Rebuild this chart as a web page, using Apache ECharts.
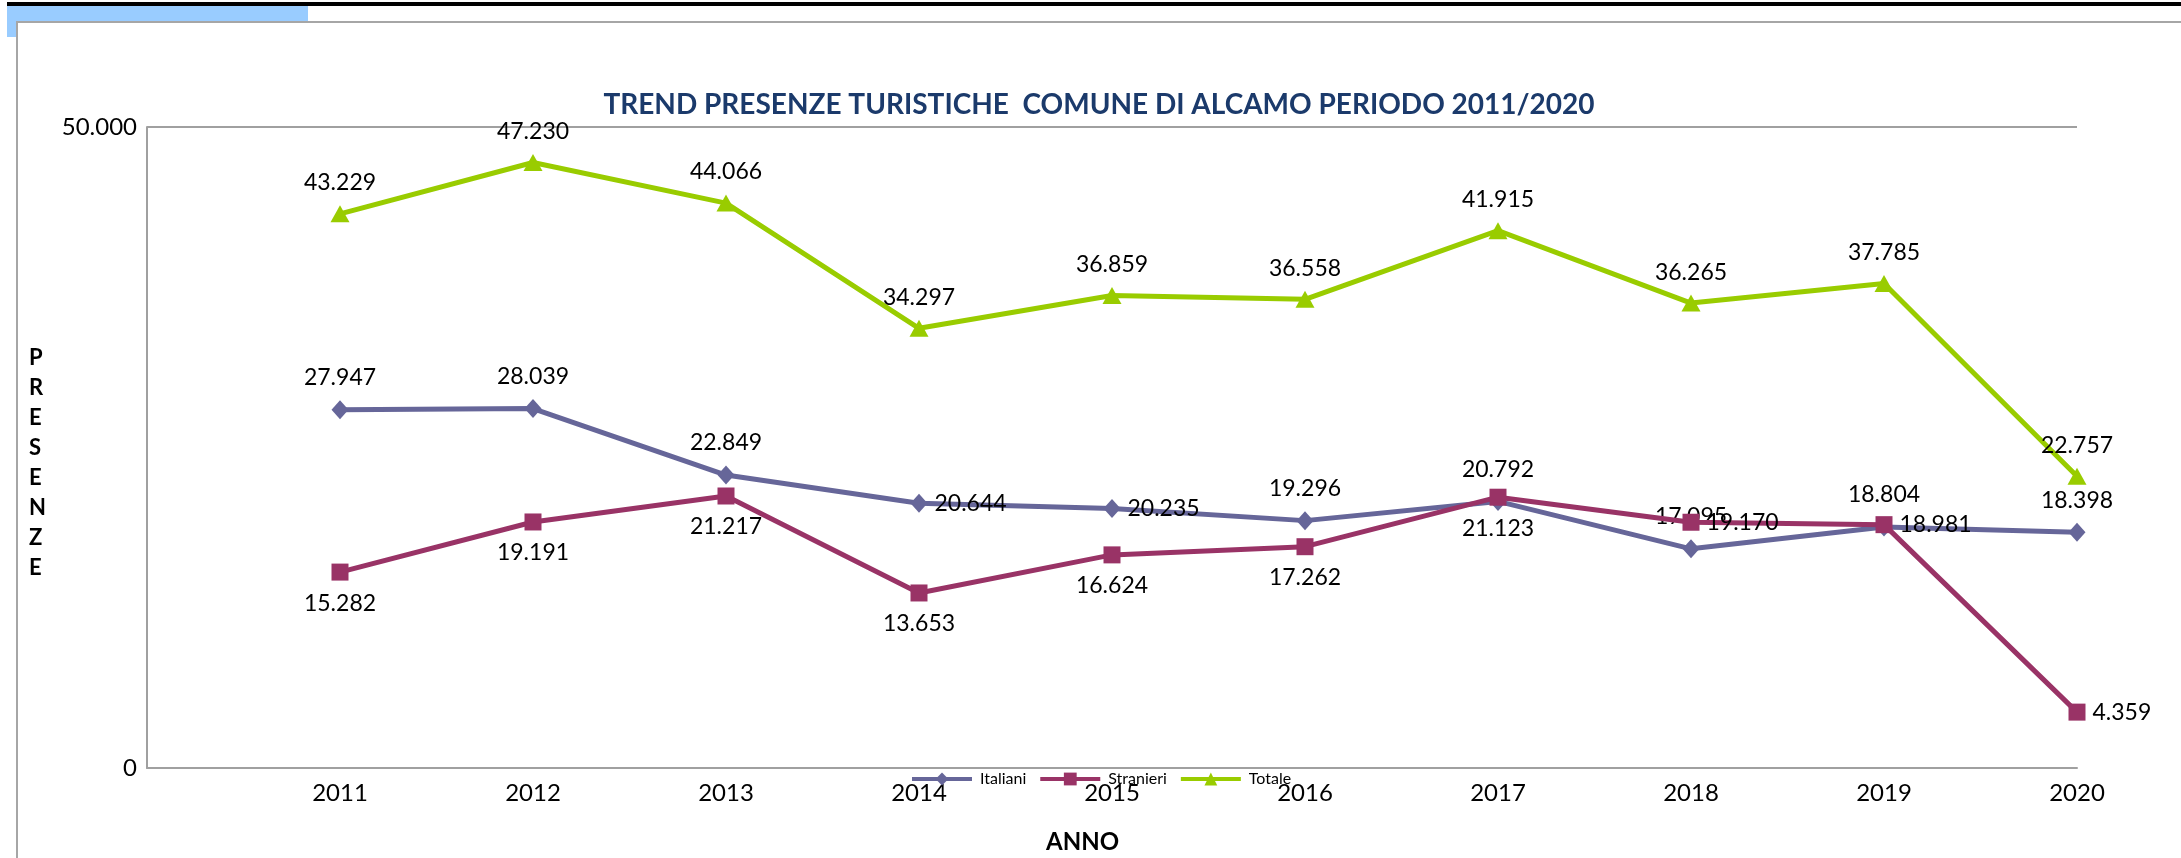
<!DOCTYPE html>
<html>
<head>
<meta charset="utf-8">
<script src="https://cdn.jsdelivr.net/npm/echarts@6/dist/echarts.min.js"></script>
<style>
html,body{margin:0;padding:0;background:#fff;}
#c{width:2181px;height:858px;}
</style>
</head>
<body>
<div id="c"></div>
<script>
const years = ['2011','2012','2013','2014','2015','2016','2017','2018','2019','2020'];
const italiani  = [27947, 28039, 22849, 20644, 20235, 19296, 20792, 17095, 18804, 18398];
const stranieri = [15282, 19191, 21217, 13653, 16624, 17262, 21123, 19170, 18981, 4359];
const totale    = [43229, 47230, 44066, 34297, 36859, 36558, 41915, 36265, 37785, 22757];
const yTicks = [0, 50000];

const titleText = 'TREND PRESENZE TURISTICHE  COMUNE DI ALCAMO PERIODO 2011/2020';
const yName = 'PRESENZE';
const xName = 'ANNO';

// label placement per point (style only)
const posItaliani  = ['top','top','top','right','right','top','top','top','top','top'];
const posStranieri = ['bottom','bottom','bottom','bottom','bottom','bottom','bottom','right','right','right'];
const posTotale    = ['top','top','top','top','top','top','top','top','top','top'];

function fmt(v){
  return String(Math.round(v)).replace(/\B(?=(\d{3})+(?!\d))/g, '.');
}
const FONT = 'Lato, "Open Sans", sans-serif';

function buildData(values, positions){
  return values.map((v,i)=>({
    value:[Number(years[i]), v],
    label:{position:positions[i], distance: positions[i]==='right'?7:11}
  }));
}

const chart = echarts.init(document.getElementById('c'));
const option = {
  backgroundColor:'#fff',
  animation:false,
  title:{
    text:titleText, left:1094, top:86, textAlign:'center',
    textStyle:{fontFamily:FONT, fontWeight:'bold', fontSize:28, color:'#1B3A6B'}
  },
  legend:{
    left:905, top:766, itemWidth:60, itemHeight:16, itemGap:12,
    lineStyle:{width:4},
    textStyle:{fontFamily:FONT, fontSize:16, color:'#000', padding:[0,0,0,3]},
    data:['Italiani','Stranieri','Totale']
  },
  grid:{left:147, right:104, top:127, bottom:90},
  xAxis:{
    type:'value', min:2010, max:2020, interval:1,
    axisLine:{show:true, onZero:false, lineStyle:{color:'#A0A0A0', width:2}},
    axisTick:{show:false},
    splitLine:{show:false},
    axisLabel:{
      margin:13, fontFamily:FONT, fontSize:24, color:'#000',
      formatter:(v)=> years.indexOf(String(v))>=0 ? String(v) : ''
    }
  },
  yAxis:{
    type:'value', min:yTicks[0], max:yTicks[yTicks.length-1], interval:50000,
    axisLine:{show:true, lineStyle:{color:'#A0A0A0', width:2}},
    axisTick:{show:false},
    splitLine:{show:true, lineStyle:{color:'#A0A0A0', width:2}},
    axisLabel:{margin:10, fontFamily:FONT, fontSize:24, color:'#000', formatter:fmt}
  },
  graphic:[
    {type:'rect', z:-20, shape:{x:7,y:2,width:2181,height:4}, style:{fill:'#000'}},
    {type:'rect', z:-20, shape:{x:7,y:6,width:301,height:31}, style:{fill:'#99CCFF'}},
    {type:'rect', z:-10, shape:{x:17,y:22,width:2200,height:900}, style:{fill:'#fff', stroke:'#A6A6A6', lineWidth:2}},
    {type:'text', z:10, left:29, top:343,
      style:{text:yName.split('').join('\n'), font:'bold 22px '+FONT, fill:'#000', lineHeight:30, align:'center'}},
    {type:'text', z:10, left:1046, top:830,
      style:{text:xName, font:'bold 24px '+FONT, fill:'#000'}}
  ],
  series:[
    {
      name:'Italiani', type:'line', data:buildData(italiani,posItaliani),
      symbol:'diamond', symbolSize:[17,19], showAllSymbol:true,
      lineStyle:{color:'#666699', width:5}, itemStyle:{color:'#666699'},
      label:{show:true, fontFamily:FONT, fontSize:23, color:'#000', formatter:(p)=>fmt(p.value[1])},
      z:3
    },
    {
      name:'Stranieri', type:'line', data:buildData(stranieri,posStranieri),
      symbol:'rect', symbolSize:17, showAllSymbol:true,
      lineStyle:{color:'#993366', width:5}, itemStyle:{color:'#993366'},
      label:{show:true, fontFamily:FONT, fontSize:23, color:'#000', formatter:(p)=>fmt(p.value[1])},
      z:4
    },
    {
      name:'Totale', type:'line', data:buildData(totale,posTotale),
      symbol:'triangle', symbolSize:[19,17], showAllSymbol:true,
      lineStyle:{color:'#99CC00', width:5}, itemStyle:{color:'#99CC00'},
      label:{show:true, fontFamily:FONT, fontSize:23, color:'#000', formatter:(p)=>fmt(p.value[1])},
      z:5
    }
  ]
};
chart.setOption(option);
</script>
</body>
</html>
